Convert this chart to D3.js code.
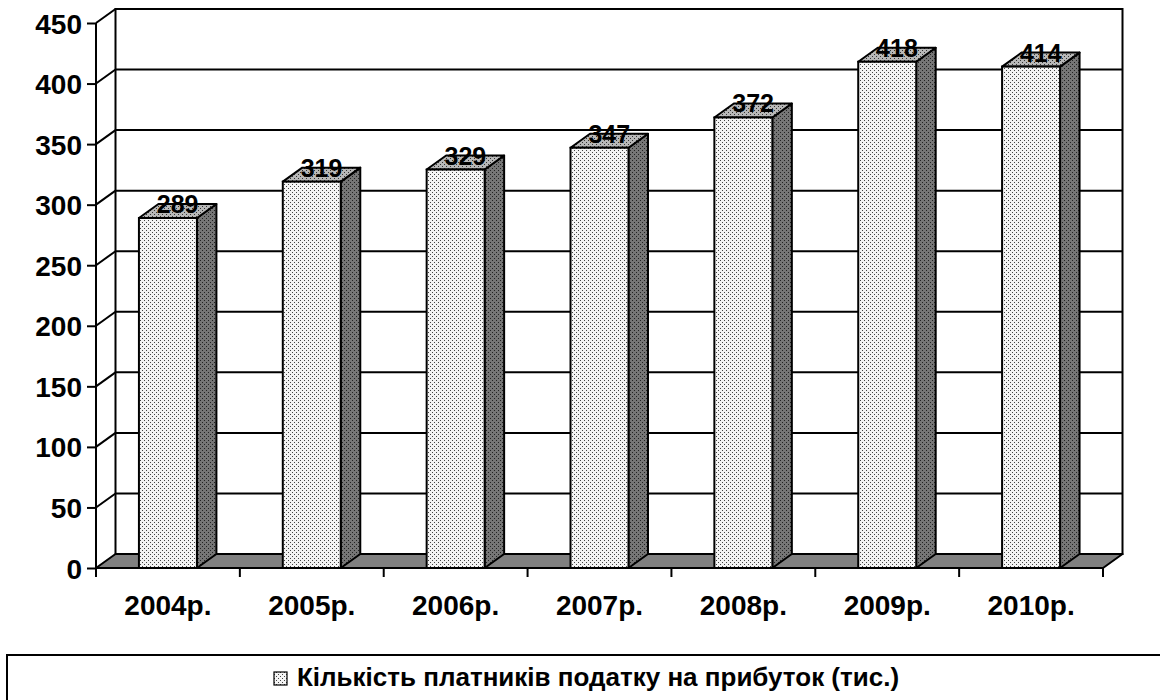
<!DOCTYPE html>
<html><head><meta charset="utf-8">
<script src="https://cdn.jsdelivr.net/npm/d3@7"></script>
<style>
html,body{margin:0;padding:0;background:#fff;}
svg{display:block;font-family:"Liberation Sans",Arial,sans-serif;font-weight:bold;}
</style></head>
<body>
<svg id="chart" width="1160" height="700"></svg>
<script>
const categories = ["2004р.","2005р.","2006р.","2007р.","2008р.","2009р.","2010р."];
const values = [289, 319, 329, 347, 372, 418, 414];
const yTicks = [0,50,100,150,200,250,300,350,400,450];
const seriesName = "Кількість платників податку на прибуток (тис.)";

const svg = d3.select("#chart");
const x0 = 96, x1 = 1103, yBottom = 568, yTop = 23;
const dx = 19.5, dy = -14;

const x = d3.scaleBand().domain(categories).range([x0, x1]).padding(0);
const y = d3.scaleLinear().domain([0, 450]).range([yBottom, yTop]);
const barW = x.bandwidth() * 0.403;

// patterns
const defs = svg.append("defs");
function dotPattern(id, bg, dot) {
  const p = defs.append("pattern").attr("id", id).attr("width", 4).attr("height", 4)
    .attr("patternUnits", "userSpaceOnUse");
  p.append("rect").attr("width", 4).attr("height", 4).attr("fill", bg);
  p.append("rect").attr("x", 0).attr("y", 0).attr("width", 1).attr("height", 1).attr("fill", dot);
  p.append("rect").attr("x", 2).attr("y", 2).attr("width", 1).attr("height", 1).attr("fill", dot);
}
dotPattern("pFront", "#f4f4f4", "#444");
dotPattern("pTop", "#b8b8b8", "#333");
dotPattern("pSide", "#767676", "#222");

const g = svg.append("g");

// back wall
g.append("rect").attr("x", x0 + dx).attr("y", y(450) + dy)
  .attr("width", x1 - x0).attr("height", y(0) - y(450))
  .attr("fill", "#fff").attr("stroke", "#000").attr("stroke-width", 2);
// gridlines on back wall
g.selectAll(".grid").data(yTicks.filter(t => t > 0 && t < 450)).join("line")
  .attr("x1", x0 + dx).attr("x2", x1 + dx)
  .attr("y1", d => y(d) + dy).attr("y2", d => y(d) + dy)
  .attr("stroke", "#000").attr("stroke-width", 2);
// left wall diagonals
g.selectAll(".diag").data(yTicks.filter(t => t > 0)).join("line")
  .attr("x1", x0).attr("y1", d => y(d))
  .attr("x2", x0 + dx).attr("y2", d => y(d) + dy)
  .attr("stroke", "#000").attr("stroke-width", 2);
// floor
g.append("polygon")
  .attr("points", [[x0, y(0)], [x1, y(0)], [x1 + dx, y(0) + dy], [x0 + dx, y(0) + dy]].map(p => p.join(",")).join(" "))
  .attr("fill", "#808080").attr("stroke", "#000").attr("stroke-width", 2).attr("stroke-linejoin", "round");

// y axis
const yAxis = d3.axisLeft(y).tickValues(yTicks).tickSize(9).tickPadding(5);
const ya = g.append("g").attr("transform", `translate(${x0},0)`).call(yAxis);
ya.select(".domain").attr("stroke", "#000").attr("stroke-width", 2).attr("d", `M0,${y(450)}V${y(0)}`);
ya.selectAll(".tick line").attr("stroke", "#000").attr("stroke-width", 2);
ya.selectAll(".tick text").attr("font-size", 28).attr("font-weight", "bold")
  .attr("font-family", "Liberation Sans, Arial, sans-serif").attr("fill", "#000").attr("dy", "0.36em");

// x axis
const xa = g.append("g").attr("transform", `translate(0,${yBottom})`);
xa.append("line").attr("x1", x0).attr("x2", x1).attr("y1", 0).attr("y2", 0)
  .attr("stroke", "#000").attr("stroke-width", 2);
const bounds = categories.map(c => x(c)).concat([x1]);
xa.selectAll(".xt").data(bounds).join("line")
  .attr("x1", d => d).attr("x2", d => d).attr("y1", 0).attr("y2", 9)
  .attr("stroke", "#000").attr("stroke-width", 2);
xa.selectAll(".xl").data(categories).join("text")
  .attr("x", d => x(d) + x.bandwidth() / 2).attr("y", 47)
  .attr("text-anchor", "middle").attr("font-size", 28).attr("fill", "#000")
  .text(d => d);

// bars
const bars = g.selectAll(".bar").data(categories.map((c, i) => ({ c, v: values[i] }))).join("g");
bars.each(function (d) {
  const gb = d3.select(this);
  const bx = x(d.c) + x.bandwidth() / 2 - barW / 2;
  const by = y(d.v), bb = y(0);
  const pts = a => a.map(p => p.join(",")).join(" ");
  gb.append("polygon").attr("points", pts([[bx + barW, by], [bx + barW + dx, by + dy], [bx + barW + dx, bb + dy], [bx + barW, bb]]))
    .attr("fill", "url(#pSide)").attr("stroke", "#000").attr("stroke-width", 2).attr("stroke-linejoin", "round");
  gb.append("polygon").attr("points", pts([[bx, by], [bx + dx, by + dy], [bx + barW + dx, by + dy], [bx + barW, by]]))
    .attr("fill", "url(#pTop)").attr("stroke", "#000").attr("stroke-width", 2).attr("stroke-linejoin", "round");
  gb.append("rect").attr("x", bx).attr("y", by).attr("width", barW).attr("height", bb - by)
    .attr("fill", "url(#pFront)").attr("stroke", "#000").attr("stroke-width", 2);
  gb.append("text").attr("x", bx + (barW + dx) / 2).attr("y", by - 5)
    .attr("text-anchor", "middle").attr("font-size", 25).attr("fill", "#000").text(d.v);
});

// legend
const lg = svg.append("g");
lg.append("rect").attr("x", 7).attr("y", 655).attr("width", 1200).attr("height", 100)
  .attr("fill", "none").attr("stroke", "#000").attr("stroke-width", 2);
lg.append("rect").attr("x", 274).attr("y", 672).attr("width", 13).attr("height", 13)
  .attr("fill", "url(#pFront)").attr("stroke", "#000").attr("stroke-width", 1.2);
lg.append("text").attr("x", 297).attr("y", 686).attr("font-size", 26).attr("fill", "#000").text(seriesName);
</script>
</body></html>
